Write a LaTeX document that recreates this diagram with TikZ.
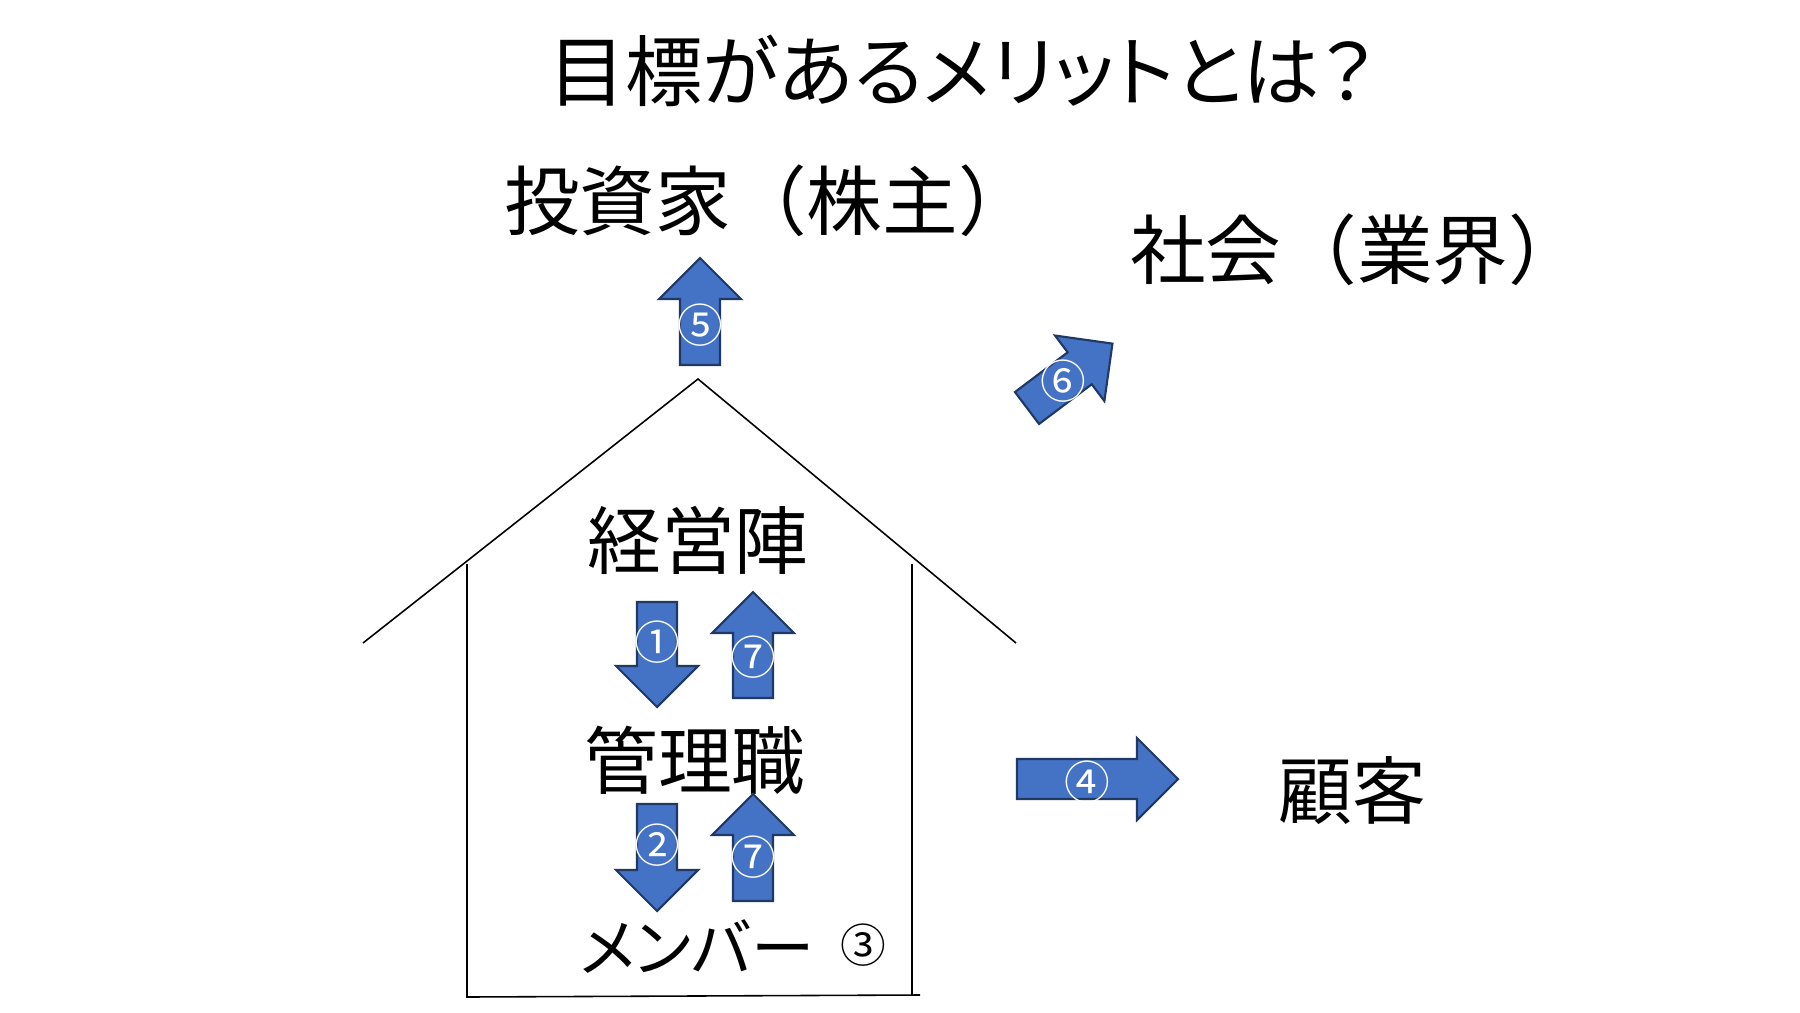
\documentclass[tikz,border=0pt]{standalone}
\usepackage{fontspec}
\newfontfamily\jp{Noto Sans CJK JP}
\newfontfamily\jpprop[RawFeature=+palt]{Noto Sans CJK JP}
\definecolor{arrowblue}{HTML}{4472C4}
\definecolor{arrowline}{HTML}{1F3864}

\newcommand*{\bodyW}{20}
\newcommand*{\headW}{41}
\newcommand*{\headL}{41}

\tikzset{
	bigtext/.style={font=\jp\fontsize{21}{24}\selectfont, inner sep=0pt},
	numtext/.style={font=\jp\fontsize{13}{15}\selectfont, text=white, inner sep=0pt},
	housewall/.style={line width=0.45pt, black},
	blockarrow/.style={fill=arrowblue, draw=arrowline, line width=0.6pt, line join=miter},
	pics/barrow/.style={code={
		\draw[blockarrow] (0,-\bodyW) -- ({#1-\headL},-\bodyW) -- ({#1-\headL},-\headW) -- (#1,0)
			-- ({#1-\headL},\headW) -- ({#1-\headL},\bodyW) -- (0,\bodyW) -- cycle;
	}}
}

\begin{document}
\begin{tikzpicture}[x=0.01cm, y=-0.01cm]
	\useasboundingbox (0,0) rectangle (1800,1012);
	\fill[white] (0,0) rectangle (1800,1012);

	% title and outside
	\node[bigtext, font=\jpprop\fontsize{22}{26}\selectfont] (title) at (962,71) {目標があるメリットとは？};
	\node[bigtext, font=\jp\fontsize{21.5}{24}\selectfont] (investor) at (769,201) {投資家（株主）};
	\node[bigtext, font=\jp\fontsize{21.5}{24}\selectfont] (society) at (1357,250) {社会（業界）};
	\node[bigtext] (customer) at (1352,790) {顧客};

	% house
	\coordinate (peak) at (698,379);
	\draw[housewall] (363,643) -- (peak) -- (1016,643);
	\draw[housewall] (467,564) -- (467,997) -- (920,995);
	\draw[housewall] (912,564) -- (912,995);

	\node[bigtext] (exec) at (698,540) {経営陣};
	\node[bigtext] (manager) at (695,760) {管理職};
	\node[bigtext, font=\jpprop\fontsize{18}{21}\selectfont] (member) at (697,947) {メンバー};
	\node[numtext, text=black] (n3) at (863,945) {③};

	% arrows: tail, angle, length, label
	\foreach \name/\tx/\ty/\ang/\len/\lx/\ly/\lab in {
		a5/700/365/90/107/700/325/⑤,
		a1/657/602/-90/105/657/642/①,
		a7/753/698/90/106/753/657/⑦,
		a2/657/804/-90/107/657/845/②,
		b7/753/901/90/107/753/857/⑦,
		a4/1017/779/0/161/1087/782/④,
		a6/1027/408/37/107/1063/381/⑥%
	} {
		\pic[rotate=\ang] at (\tx,\ty) {barrow=\len};
		\node[numtext] (\name) at (\lx,\ly) {\lab};
	}
\end{tikzpicture}
\end{document}
